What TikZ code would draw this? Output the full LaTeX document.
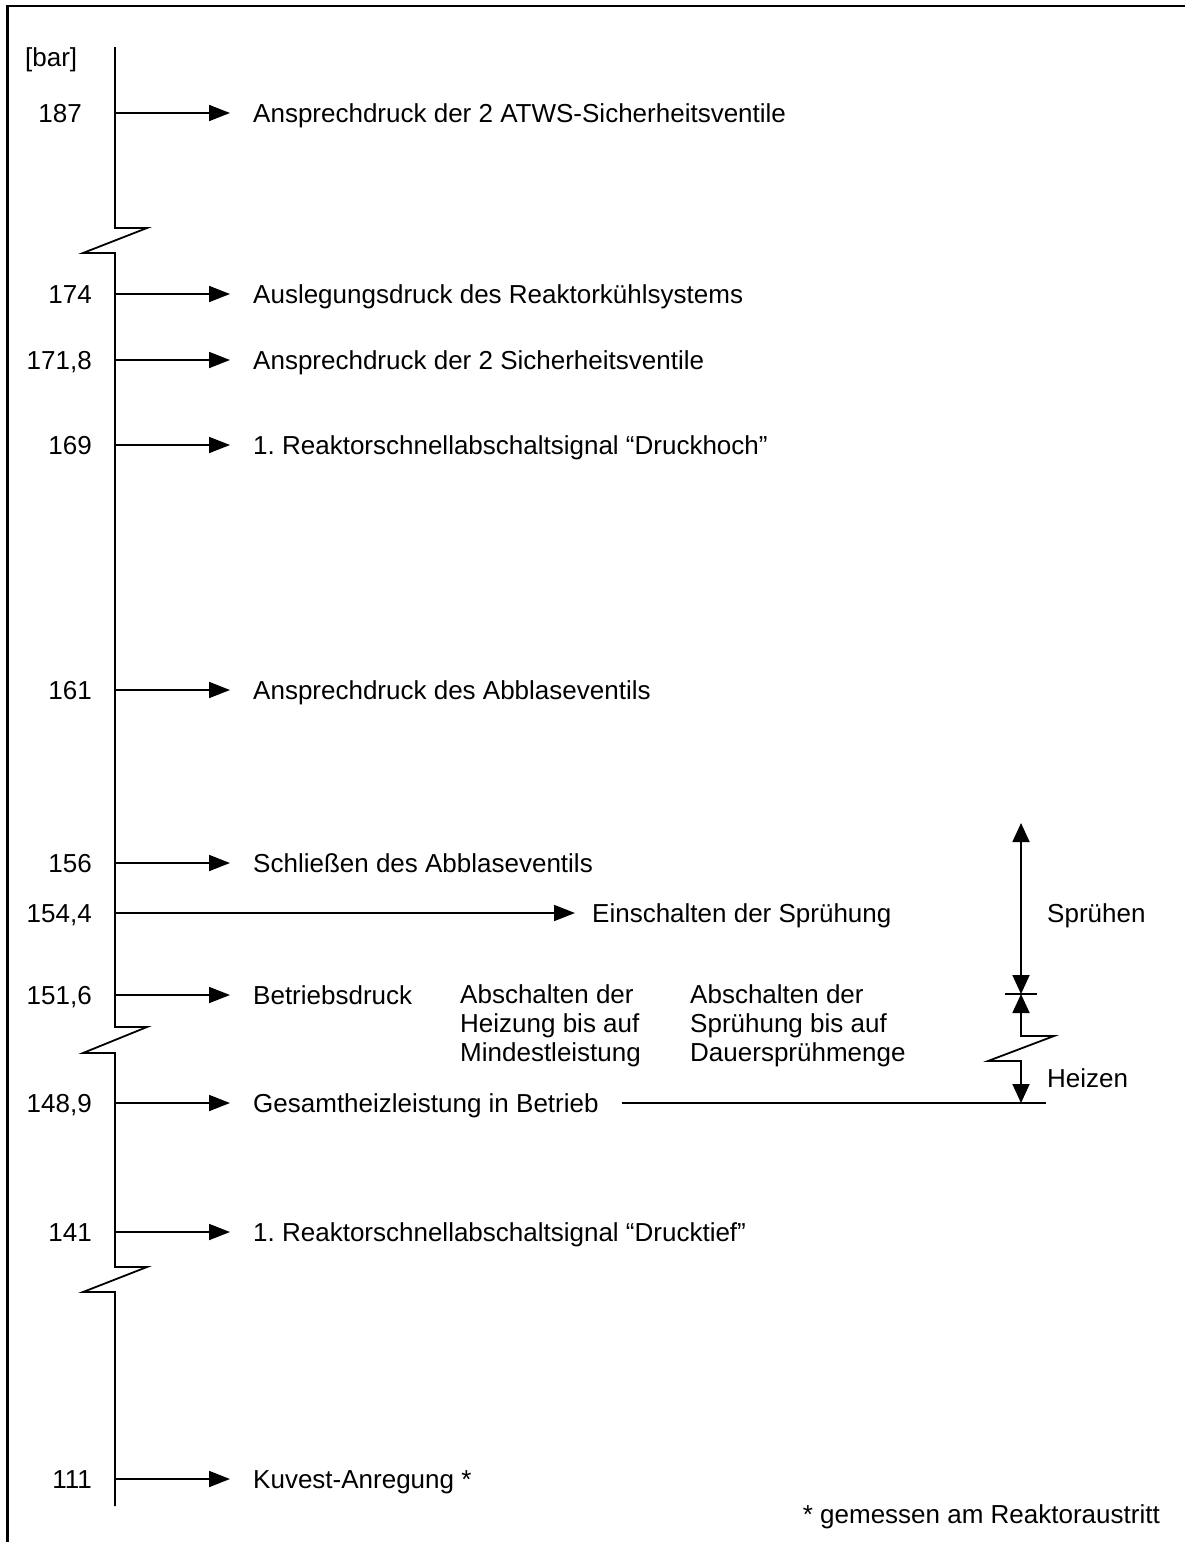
\documentclass[tikz,border=0pt]{standalone}
\usepackage{fontspec}
\setmainfont{Liberation Sans}
\usetikzlibrary{arrows.meta,positioning}
\frenchspacing

\begin{document}
\begin{tikzpicture}[x=1pt,y=-1pt,every node/.style={font=\fontsize{26}{29}\selectfont}]
  \tikzstyle{val}=[anchor=east,inner sep=0pt,text height=18pt,text depth=0pt]
  \tikzstyle{txt}=[anchor=west,inner xsep=23pt,inner ysep=0pt,text height=18pt,text depth=0pt]
  \tikzstyle{pfeil}=[-{Triangle[length=21pt,width=16pt]},line width=1.8pt]
  \tikzstyle{dpfeil}=[{Triangle[length=19pt,width=17pt]}-{Triangle[length=19pt,width=17pt]},line width=1.8pt]
  \useasboundingbox (0,0) rectangle (1185,1542);

  % Rahmen
  \draw[line width=2.4pt] (7.3,1542) -- (7.3,6) -- (1185,6);

  % Druckachse mit Unterbrechungen
  \draw[line width=1.8pt] (115,47) -- (115,228) -- (147,228) -- (83,253) -- (115,253)
    -- (115,1027) -- (147,1027) -- (83,1053) -- (115,1053)
    -- (115,1267) -- (147,1267) -- (83,1292) -- (115,1292) -- (115,1506);
  \node[anchor=west,inner sep=0pt,text height=18pt,text depth=0pt] (bar) at (25,57) {[bar]};

  \coordinate (a187) at (115,113);
  \coordinate (a174) at (115,294);
  \coordinate (a1718) at (115,360);
  \coordinate (a169) at (115,445);
  \coordinate (a161) at (115,690);
  \coordinate (a156) at (115,863);
  \coordinate (a1544) at (115,913);
  \coordinate (a1516) at (115,995);
  \coordinate (a1489) at (115,1103);
  \coordinate (a141) at (115,1232);
  \coordinate (a111) at (115,1479);

  \node[val] (v187) at (82,113) {187};
  \node[val] (v174) at (92,294) {174};
  \node[val] (v1718) at (92,360) {171,8};
  \node[val] (v169) at (92,445) {169};
  \node[val] (v161) at (92,690) {161};
  \node[val] (v156) at (92,863) {156};
  \node[val] (v1544) at (92,913) {154,4};
  \node[val] (v1516) at (92,995) {151,6};
  \node[val] (v1489) at (92,1103) {148,9};
  \node[val] (v141) at (92,1232) {141};
  \node[val] (v111) at (92,1479) {111};

  \node[txt] (t187) at (230,113) {Ansprechdruck der 2 ATWS-Sicherheitsventile};
  \node[txt] (t174) at (230,294) {Auslegungsdruck des Reaktorkühlsystems};
  \node[txt] (t1718) at (230,360) {Ansprechdruck der 2 Sicherheitsventile};
  \node[txt] (t169) at (230,445) {1. Reaktorschnellabschaltsignal “Druckhoch”};
  \node[txt] (t161) at (230,690) {Ansprechdruck des Abblaseventils};
  \node[txt] (t156) at (230,863) {Schließen des Abblaseventils};
  \node[txt,inner xsep=17pt] (t1544) at (575,913) {Einschalten der Sprühung};
  \node[txt] (t1516) at (230,995) {Betriebsdruck};
  \node[txt] (t1489) at (230,1103) {Gesamtheizleistung in Betrieb};
  \node[txt] (t141) at (230,1232) {1. Reaktorschnellabschaltsignal “Drucktief”};
  \node[txt] (t111) at (230,1479) {Kuvest-Anregung *};

  \draw[pfeil] (a187) -- (t187.west);
  \draw[pfeil] (a174) -- (t174.west);
  \draw[pfeil] (a1718) -- (t1718.west);
  \draw[pfeil] (a169) -- (t169.west);
  \draw[pfeil] (a161) -- (t161.west);
  \draw[pfeil] (a156) -- (t156.west);
  \draw[pfeil] (a1544) -- (t1544.west);
  \draw[pfeil] (a1516) -- (t1516.west);
  \draw[pfeil] (a1489) -- (t1489.west);
  \draw[pfeil] (a141) -- (t141.west);
  \draw[pfeil] (a111) -- (t111.west);

  \node[align=left,anchor=west,inner sep=0pt] (heiz) at (460,1026) {Abschalten der\\Heizung bis auf\\Mindestleistung};
  \node[align=left,anchor=west,inner sep=0pt] (spr) at (690,1026) {Abschalten der\\Sprühung bis auf\\Dauersprühmenge};

  % Bereiche rechts
  \coordinate (sp) at (1021,823);
  \coordinate (bd) at (1021,994);
  \coordinate (hz) at (1021,1103);
  \coordinate (hzend) at (1046,1103);
  \draw[dpfeil] (sp) -- (bd);
  \draw[line width=1.8pt] ([xshift=-16pt]bd) -- ([xshift=16pt]bd);
  \draw[dpfeil] (bd) -- (1021,1036) -- (1054,1036) -- (988,1061) -- (1021,1061) -- (hz);
  \draw[line width=1.8pt] (t1489.east) -- (hzend);
  \node[txt,inner xsep=0pt] (spruehen) at (1047,913) {Sprühen};
  \node[txt,inner xsep=0pt] (heizen) at (1047,1078) {Heizen};

  \node[val] (fuss) at (1160,1514) {* gemessen am Reaktoraustritt};
\end{tikzpicture}
\end{document}
